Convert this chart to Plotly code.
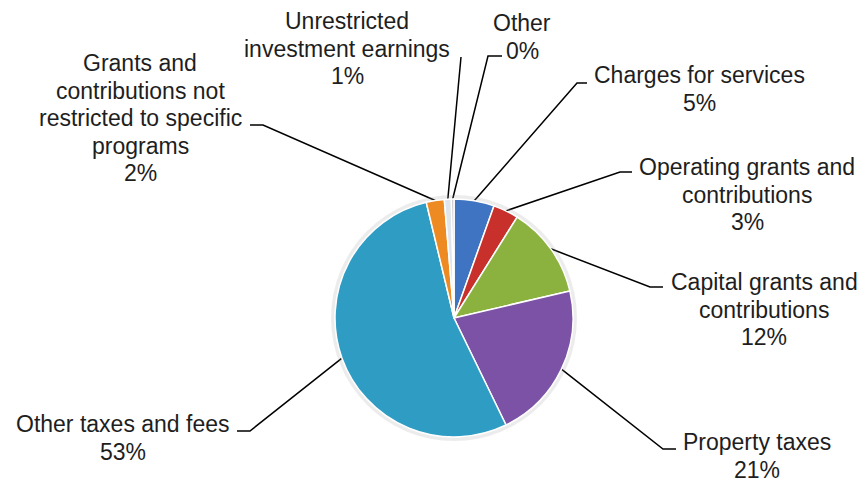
import math
import plotly.graph_objects as go

# Revenue sources (share of total, percent)
categories = [
    "Charges for services",
    "Operating grants and contributions",
    "Capital grants and contributions",
    "Property taxes",
    "Other taxes and fees",
    "Grants and contributions not restricted to specific programs",
    "Unrestricted investment earnings",
    "Other",
]
values = [5.45, 3.45, 12.45, 21.45, 53.45, 2.45, 0.95, 0.35]

# Label text split into lines as displayed
label_lines = [
    ["Charges for services"],
    ["Operating grants and", "contributions"],
    ["Capital grants and", "contributions"],
    ["Property taxes"],
    ["Other taxes and fees"],
    ["Grants and", "contributions not", "restricted to specific", "programs"],
    ["Unrestricted", "investment earnings"],
    ["Other"],
]

slice_colors = ["#3f74c2", "#c8302c", "#8bb13e", "#7b52a6",
                "#2f9cc4", "#ee8a22", "#dfe5ec", "#c4c4c4"]

# Layout (pixel space of the 864x486 canvas)
W, H = 864, 486
CX, CY, R = 454, 318, 119
FONT = "Liberation Sans, Arial, sans-serif"
FONT_SIZE = 23
LINE_STEP = 27.5

# label block: centre x, y of first line
label_pos = [
    (699, 75), (747, 167), (764, 282), (757, 442),
    (123, 424), (140, 63), (347, 21), (522, 23),
]
# leader polylines from the pie edge: intermediate points toward the text
leader_pts = [
    [(577, 83), (587, 83)],
    [(620, 172), (632, 172)],
    [(650, 287), (663, 287)],
    [(663, 449), (676, 449)],
    [(250, 431), (237, 431)],
    [(263, 125), (250, 125)],
    [(461, 57)],
    [(488, 56), (502, 56)],
]

total = sum(values)
percents = [round(v / total * 100) for v in values]

fig = go.Figure()


def domain_for(radius):
    return dict(
        x=[(CX - radius) / W, (CX + radius) / W],
        y=[(H - CY - radius) / H, (H - CY + radius) / H],
    )


# soft shadow ring behind the pie
fig.add_trace(go.Pie(
    values=[1], labels=["shadow"], domain=domain_for(R + 4),
    marker=dict(colors=["rgba(150,150,150,0.18)"], line=dict(width=0)),
    textinfo="none", hoverinfo="skip", showlegend=False, sort=False,
))

fig.add_trace(go.Pie(
    values=values, labels=categories, domain=domain_for(R),
    sort=False, direction="clockwise", rotation=0,
    marker=dict(colors=slice_colors, line=dict(color="white", width=1.5)),
    textinfo="none", hoverinfo="label+percent", showlegend=False,
))

# leader lines from each slice's mid-angle on the rim
cum = 0.0
for i, v in enumerate(values):
    mid = (cum + v / 2) / total * 2 * math.pi
    cum += v
    x0 = CX + R * math.sin(mid)
    y0 = CY - R * math.cos(mid)
    xs = [x0] + [p[0] for p in leader_pts[i]]
    ys = [y0] + [p[1] for p in leader_pts[i]]
    fig.add_trace(go.Scatter(
        x=xs, y=ys, mode="lines", line=dict(color="black", width=1.5),
        hoverinfo="skip", showlegend=False,
    ))

annotations = []
for i, lines in enumerate(label_lines):
    cx, y = label_pos[i]
    for k, t in enumerate(lines + [f"{percents[i]}%"]):
        annotations.append(dict(
            x=cx, y=y + k * LINE_STEP, xref="x", yref="y", text=t,
            showarrow=False, xanchor="center", yanchor="middle",
            font=dict(family=FONT, size=FONT_SIZE, color="#1e1e1e"),
        ))

fig.update_layout(
    width=W, height=H,
    margin=dict(l=0, r=0, t=0, b=0),
    paper_bgcolor="white", plot_bgcolor="rgba(0,0,0,0)",
    xaxis=dict(range=[0, W], visible=False, fixedrange=True),
    yaxis=dict(range=[H, 0], visible=False, fixedrange=True),
    annotations=annotations,
)

fig.write_html("out.html")
